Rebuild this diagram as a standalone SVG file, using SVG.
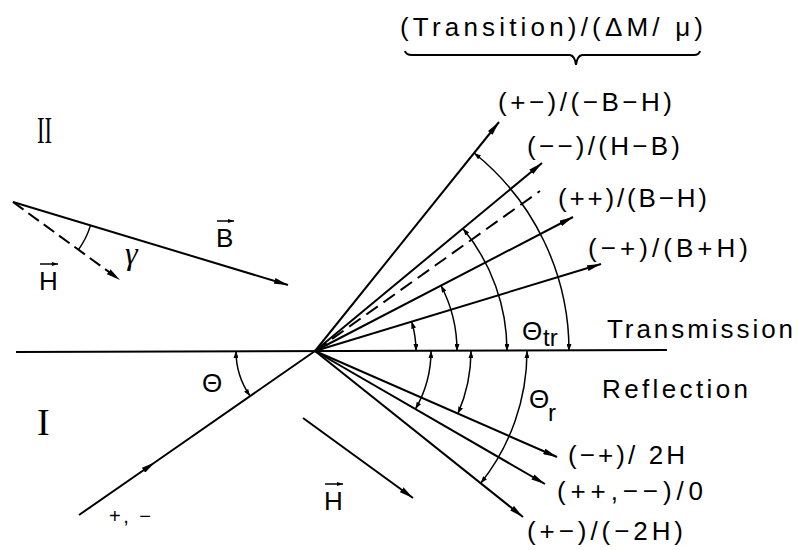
<svg xmlns="http://www.w3.org/2000/svg" width="799" height="550" viewBox="0 0 799 550">
<style>
.ln{stroke:#000;stroke-width:2;fill:none}
.big{marker-end:url(#ah)}
.dash{stroke-dasharray:14 7}
.arc{stroke:#000;stroke-width:1.5;fill:none;marker-start:url(#sa);marker-end:url(#sa)}
.t{font-family:"Liberation Sans",Arial,sans-serif;font-size:26px;fill:#000}
.s{font-size:24px}
.rn{font-family:"Liberation Serif","Times New Roman",serif;font-size:38px;fill:#000}
.ob{stroke:#000;stroke-width:1.5;fill:none;marker-end:url(#oa)}
</style>
<defs>
<marker id="ah" markerWidth="14" markerHeight="6" refX="14" refY="3" orient="auto" markerUnits="userSpaceOnUse"><path d="M0,0 L14,3 L0,6 z" fill="#000"/></marker>
<marker id="sa" markerWidth="7" markerHeight="5" refX="7" refY="2.5" orient="auto-start-reverse" markerUnits="userSpaceOnUse"><path d="M0,0 L7,2.5 L0,5 z" fill="#000"/></marker>
<marker id="oa" markerWidth="6" markerHeight="4" refX="6" refY="2" orient="auto" markerUnits="userSpaceOnUse"><path d="M0,0 L6,2 L0,4 z" fill="#000"/></marker>
</defs>
<rect width="799" height="550" fill="#fff"/>

<g id="connectors">
  <!-- interface -->
  <line class="ln" x1="16" y1="352" x2="667" y2="350"/>
  <!-- incident -->
  <path class="ln" d="M79,515 L155,462.2 L315,351" marker-mid="url(#ah)"/>
  <!-- transmitted -->
  <line class="ln big" x1="315" y1="351" x2="499" y2="122"/>
  <line class="ln big" x1="315" y1="351" x2="542" y2="163"/>
  <line class="ln dash" x1="315" y1="351" x2="540" y2="191"/>
  <line class="ln big" x1="315" y1="351" x2="573" y2="217"/>
  <line class="ln big" x1="315" y1="351" x2="601" y2="264"/>
  <!-- reflected -->
  <line class="ln big" x1="315" y1="351" x2="557" y2="457"/>
  <line class="ln big" x1="315" y1="351" x2="545" y2="484"/>
  <line class="ln big" x1="315" y1="351" x2="523" y2="517"/>
  <!-- transmission angle arcs -->
  <path class="arc" d="M416,351 A101,101 0 0 0 411.6,321.6"/>
  <path class="arc" d="M457,351 A142,142 0 0 0 441,285.5"/>
  <path class="arc" d="M507,351 A192,192 0 0 0 462.9,228.5"/>
  <path class="arc" d="M569,351 A254,254 0 0 0 474.1,153"/>
  <!-- reflection angle arcs -->
  <path class="arc" d="M431,351 A116,116 0 0 1 415.4,409.1"/>
  <path class="arc" d="M471,351 A156,156 0 0 1 457.9,413.6"/>
  <path class="arc" d="M527,351 A212,212 0 0 1 480.7,483.2"/>
  <!-- incidence angle arc -->
  <path class="arc" d="M236,351 A79,79 0 0 0 250.1,396.1"/>
  <!-- B and H vectors (upper left) -->
  <line class="ln big" x1="13" y1="202" x2="288" y2="285"/>
  <line class="ln big" x1="13" y1="202" x2="120" y2="280" stroke-dasharray="13 6"/>
  <path d="M90.5,225.4 A81,81 0 0 1 78.4,249.7" stroke="#000" stroke-width="1.5" fill="none"/>
  <!-- H vector lower -->
  <line class="ln big" x1="303" y1="418" x2="413" y2="498"/>
  <!-- brace -->
  <path d="M405,51 Q406,55 412,55 L570,55 Q575,56 576,65 Q577,56 582,55 L694,55 Q699,55 700,51" stroke="#000" stroke-width="2" fill="none"/>
</g>

<g id="header"><text class="t" x="400" y="36" textLength="303" lengthAdjust="spacing">(Transition)/(ΔM/ μ)</text></g>
<g id="lbl-t1"><text class="t" x="498" y="111" textLength="174" lengthAdjust="spacing">(+−)/(−B−H)</text></g>
<g id="lbl-t2"><text class="t" x="527" y="155" textLength="153" lengthAdjust="spacing">(−−)/(H−B)</text></g>
<g id="lbl-t3"><text class="t" x="558" y="207" textLength="149" lengthAdjust="spacing">(++)/(B−H)</text></g>
<g id="lbl-t4"><text class="t" x="588" y="257" textLength="160" lengthAdjust="spacing">(−+)/(B+H)</text></g>
<g id="lbl-r1"><text class="t" x="568" y="464" textLength="117" lengthAdjust="spacing">(−+)/ 2H</text></g>
<g id="lbl-r2"><text class="t" x="557" y="500" textLength="146" lengthAdjust="spacing">(++,−−)/0</text></g>
<g id="lbl-r3"><text class="t" x="527" y="540" textLength="156" lengthAdjust="spacing">(+−)/(−2H)</text></g>
<g id="lbl-transmission"><text class="t" x="607" y="338" textLength="186" lengthAdjust="spacing">Transmission</text></g>
<g id="lbl-reflection"><text class="t" x="602" y="398" textLength="146" lengthAdjust="spacing">Reflection</text></g>
<g id="lbl-theta-tr"><text class="t" x="522" y="340">Θ</text><text class="t s" x="543" y="346">tr</text></g>
<g id="lbl-theta-r"><text class="t" x="529" y="408">Θ</text><text class="t s" x="548" y="421">r</text></g>
<g id="lbl-theta"><text class="t" x="202" y="392">Θ</text></g>
<g id="lbl-gamma"><text x="125" y="264" font-family="Liberation Serif, Times New Roman, serif" font-size="32" font-style="italic" fill="#000">γ</text></g>
<g id="lbl-B"><text class="t" x="216" y="247">B</text><line class="ob" x1="217" y1="221" x2="234" y2="221"/></g>
<g id="lbl-H1"><text class="t" x="39" y="290">H</text><line class="ob" x1="40" y1="264" x2="58" y2="264"/></g>
<g id="lbl-H2"><text class="t" x="324" y="510">H</text><line class="ob" x1="325" y1="484" x2="343" y2="484"/></g>
<g id="lbl-II"><text class="rn" x="37" y="143" textLength="15" lengthAdjust="spacingAndGlyphs">II</text></g>
<g id="lbl-I"><text class="rn" x="37" y="435">I</text></g>
<g id="lbl-pm"><text class="t" x="109" y="523" style="font-size:20px" textLength="42" lengthAdjust="spacing">+, −</text></g>
</svg>
